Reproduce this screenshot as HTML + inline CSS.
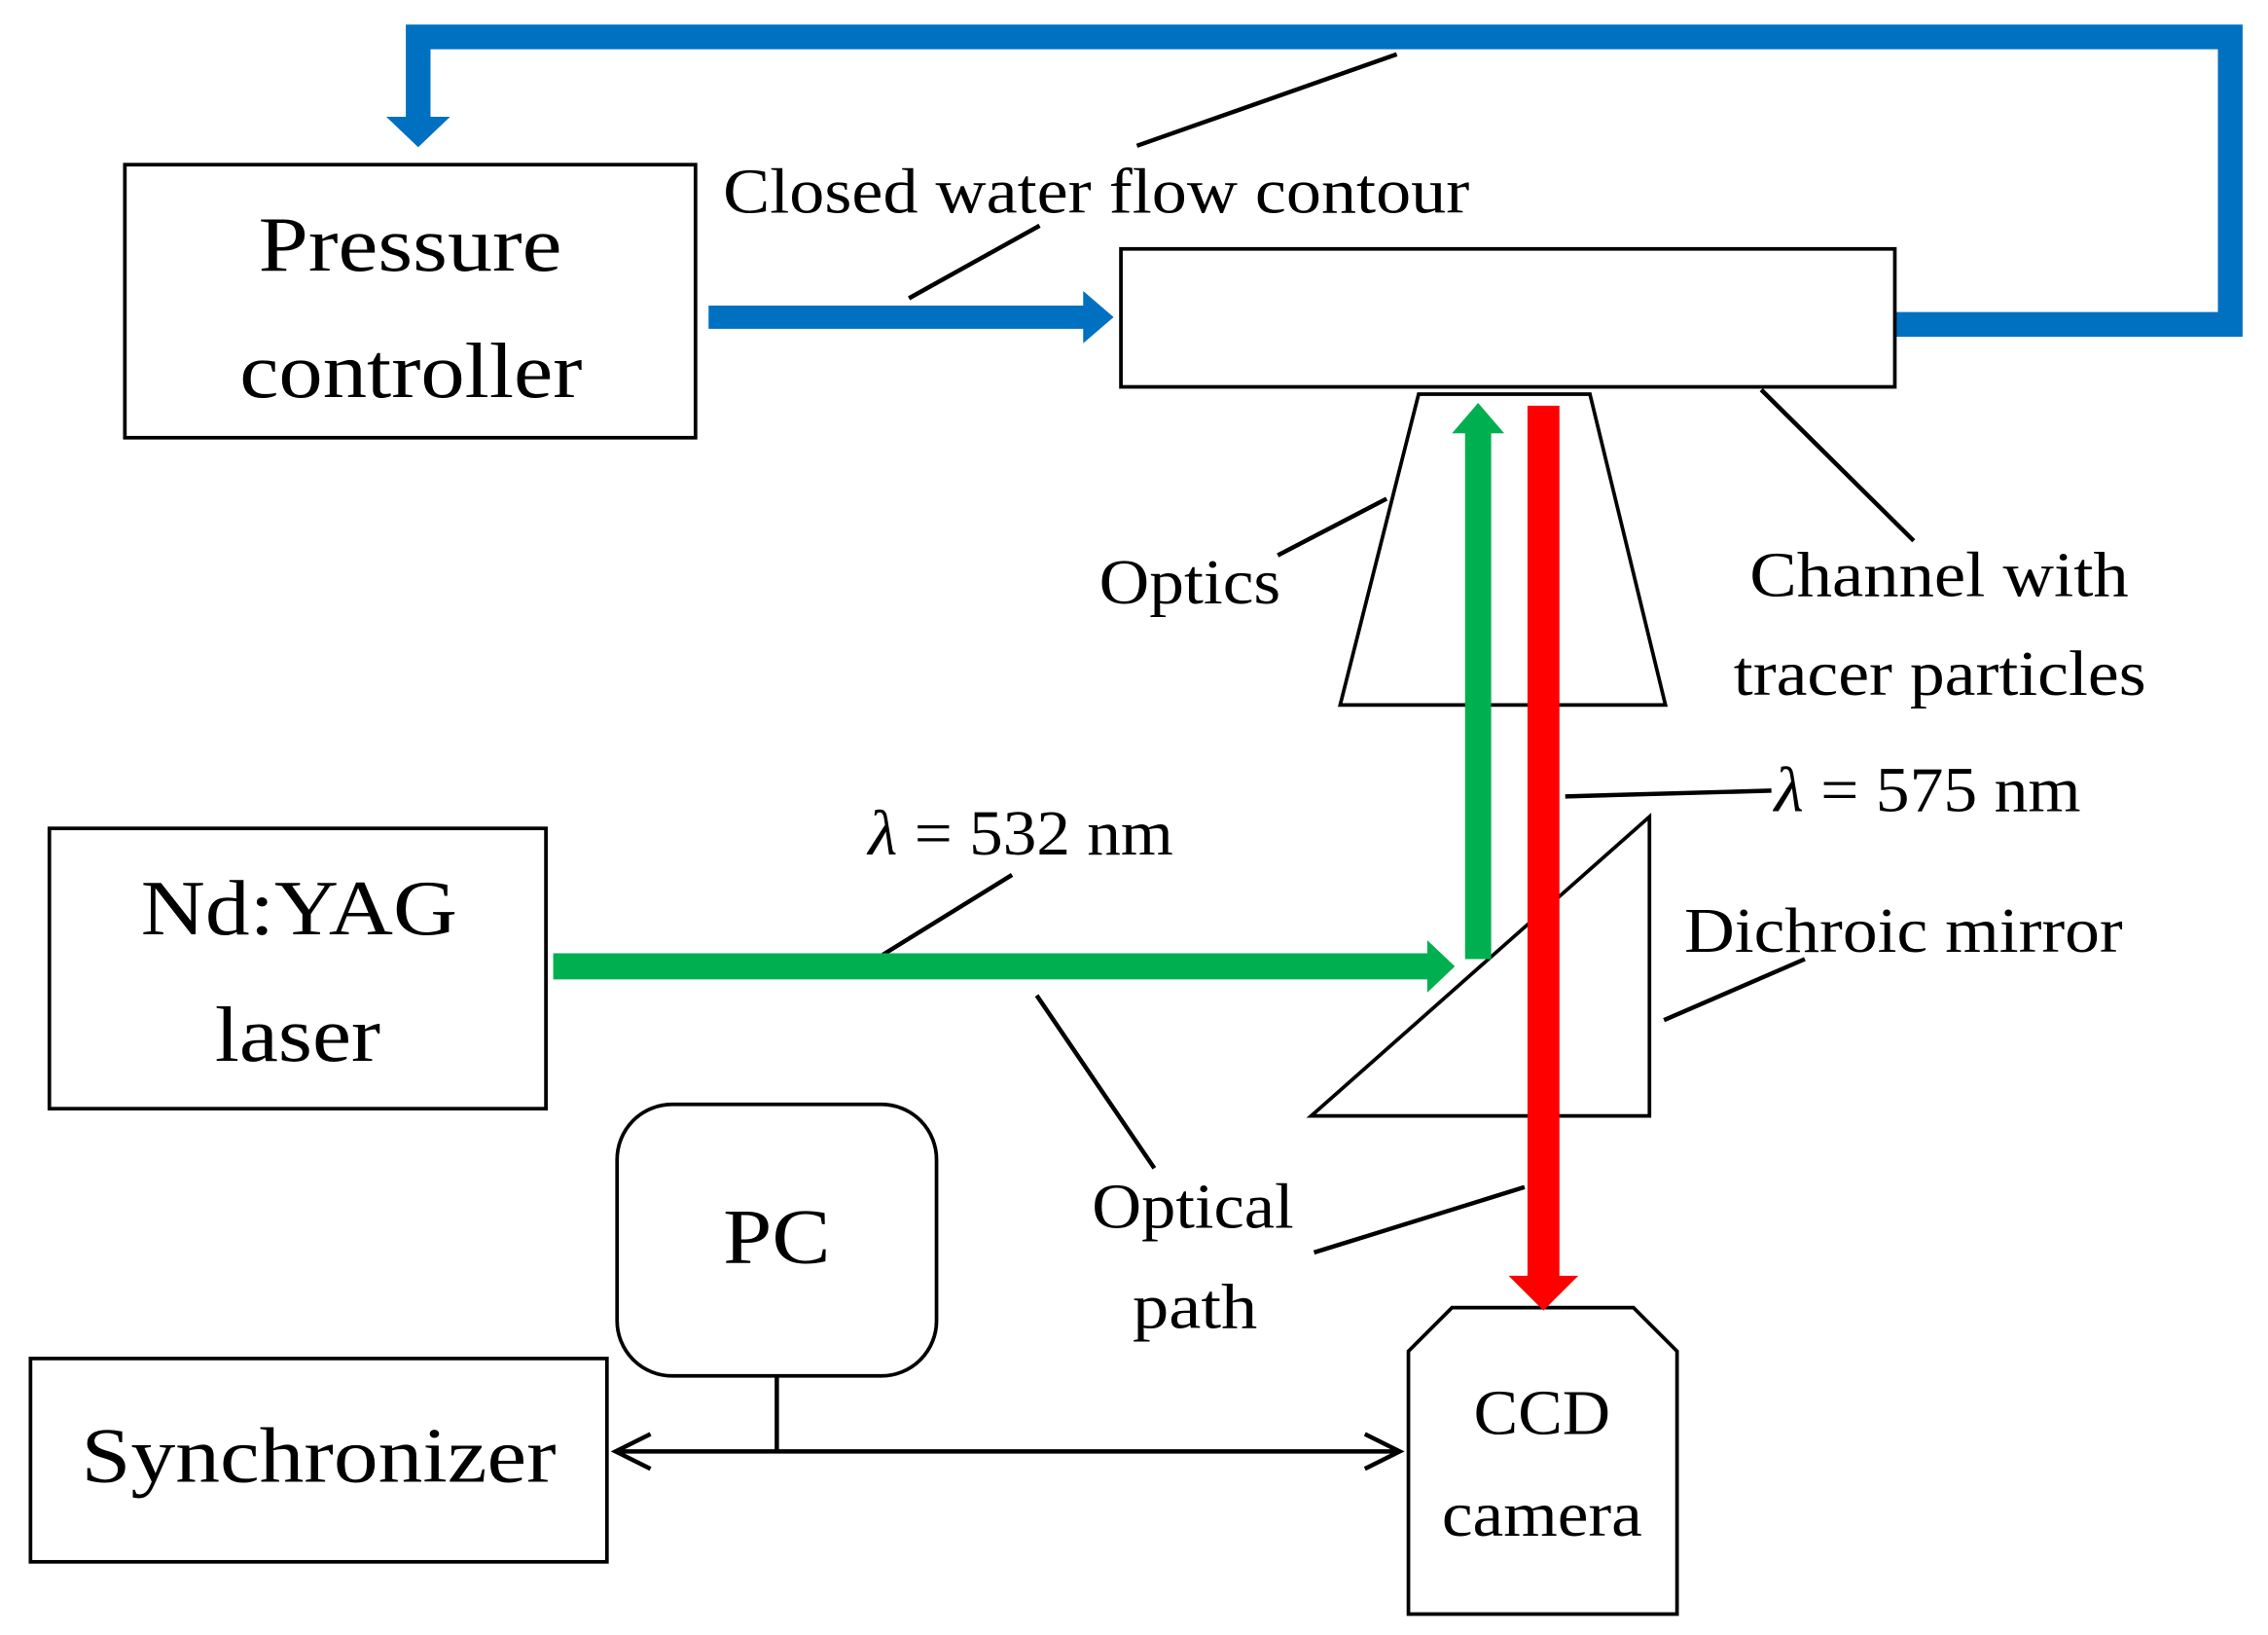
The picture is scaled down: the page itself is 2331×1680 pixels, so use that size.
<!DOCTYPE html>
<html><head><meta charset="utf-8"><style>html,body{margin:0;padding:0;background:#fff}svg{display:block}</style></head>
<body>
<svg width="2331" height="1680" viewBox="0 0 1562 1125" xmlns="http://www.w3.org/2000/svg" font-family="Liberation Serif, serif">
<rect width="1562" height="1125" fill="#fff"/>
<polyline points="1305,223 1536,223 1536,25 288,25 288,82" fill="none" stroke="#0070c0" stroke-width="17"/>
<polygon points="266,80 310,80 288,101" fill="#0070c0"/>
<line x1="488" y1="218" x2="748" y2="218" stroke="#0070c0" stroke-width="16"/>
<polygon points="746,200 767,218 746,236" fill="#0070c0"/>
<g fill="none" stroke="#000" stroke-width="2.5">
<rect x="86" y="113" width="393" height="188"/>
<rect x="772" y="171" width="533" height="95"/>
<polygon points="977,271 1095,271 1147,485 923,485"/>
<rect x="34" y="570" width="342" height="193"/>
<rect x="425" y="760" width="220" height="187" rx="38"/>
<rect x="21" y="935" width="397" height="140"/>
<polygon points="1000,900 1125,900 1155,930 1155,1111 970,1111 970,930"/>
<polygon points="903,768 1136,768 1136,562"/>
</g>
<g stroke="#000" stroke-width="3" fill="none">
<line x1="783" y1="100" x2="962" y2="37"/>
<line x1="626" y1="205" x2="716" y2="155"/>
<line x1="1213" y1="268" x2="1318" y2="372"/>
<line x1="880" y1="382" x2="955" y2="343"/>
<line x1="1078" y1="548" x2="1220" y2="544"/>
<line x1="1146" y1="702" x2="1243" y2="660"/>
<line x1="608" y1="657" x2="697" y2="602"/>
<line x1="714" y1="685" x2="795" y2="804"/>
<line x1="905" y1="862" x2="1050" y2="817"/>
<line x1="535" y1="947" x2="535" y2="999"/>
<line x1="424" y1="999" x2="964" y2="999"/>
<polyline points="448,987 424,999 448,1011"/>
<polyline points="940,987 964,999 940,1011"/>
</g>
<line x1="1018" y1="660" x2="1018" y2="296" stroke="#00b050" stroke-width="18"/>
<polygon points="1000,298 1018,277 1036,298" fill="#00b050"/>
<line x1="381" y1="665" x2="985" y2="665" stroke="#00b050" stroke-width="18"/>
<polygon points="983,647 1002,665 983,683" fill="#00b050"/>
<line x1="1063" y1="279" x2="1063" y2="880" stroke="#ff0000" stroke-width="22"/>
<polygon points="1039,878 1087,878 1063,902" fill="#ff0000"/>
<g fill="#000" font-size="54" lengthAdjust="spacingAndGlyphs">
<text x="178" y="186" textLength="209" lengthAdjust="spacingAndGlyphs">Pressure</text>
<text x="165" y="273" textLength="236" lengthAdjust="spacingAndGlyphs">controller</text>
<text x="97" y="643" textLength="218" lengthAdjust="spacingAndGlyphs">Nd:YAG</text>
<text x="148" y="730" textLength="114" lengthAdjust="spacingAndGlyphs">laser</text>
<text x="498" y="869" textLength="74" lengthAdjust="spacingAndGlyphs">PC</text>
<text x="56" y="1020" textLength="327" lengthAdjust="spacingAndGlyphs">Synchronizer</text>
</g>
<g fill="#000" font-size="44">
<text x="498" y="146" textLength="514" lengthAdjust="spacingAndGlyphs">Closed water flow contour</text>
<text x="757" y="415" textLength="125" lengthAdjust="spacingAndGlyphs">Optics</text>
<text x="1205" y="410" textLength="261" lengthAdjust="spacingAndGlyphs">Channel with</text>
<text x="1194" y="478" textLength="284" lengthAdjust="spacingAndGlyphs">tracer particles</text>
<text x="1222" y="558" textLength="211" lengthAdjust="spacingAndGlyphs"><tspan font-style="italic">λ</tspan> = 575 nm</text>
<text x="1160" y="655" textLength="302" lengthAdjust="spacingAndGlyphs">Dichroic mirror</text>
<text x="598" y="588" textLength="210" lengthAdjust="spacingAndGlyphs"><tspan font-style="italic">λ</tspan> = 532 nm</text>
<text x="752" y="845" textLength="139" lengthAdjust="spacingAndGlyphs">Optical</text>
<text x="780" y="914" textLength="86" lengthAdjust="spacingAndGlyphs">path</text>
<text x="1015" y="987" textLength="94" lengthAdjust="spacingAndGlyphs">CCD</text>
<text x="993" y="1057" textLength="138" lengthAdjust="spacingAndGlyphs">camera</text>
</g>
</svg>
</body></html>
